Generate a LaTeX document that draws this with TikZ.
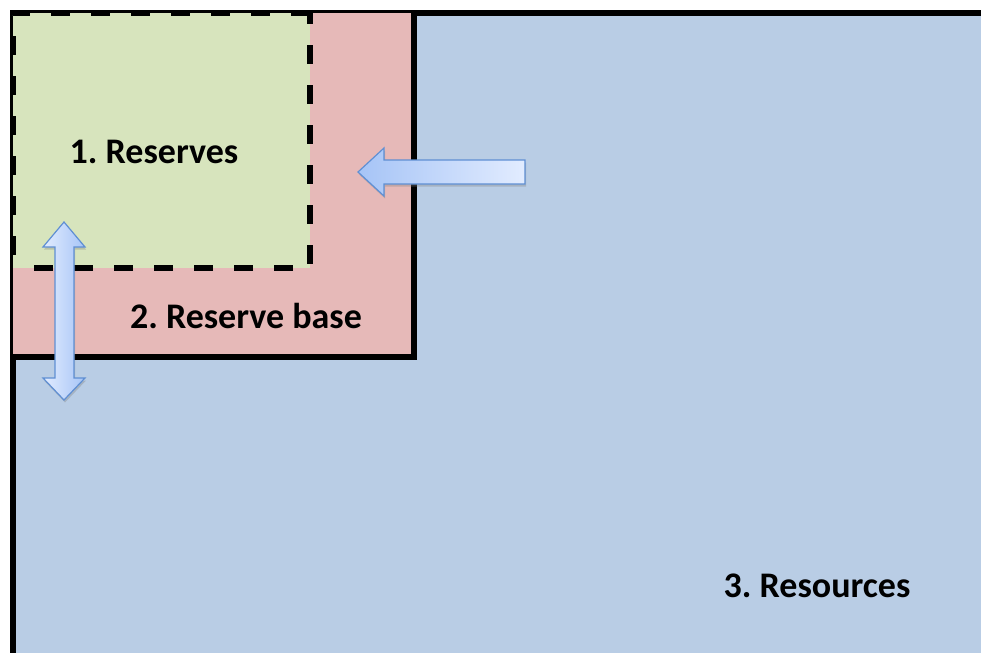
\documentclass[tikz,border=0pt]{standalone}
\usepackage{fontspec}
\setmainfont{Carlito}
\frenchspacing
\usetikzlibrary{shadows}
\definecolor{resgreen}{HTML}{D7E4BD}
\definecolor{basered}{HTML}{E6B9B8}
\definecolor{resblue}{HTML}{B9CDE5}
\definecolor{arrline}{HTML}{5F8FD3}
\definecolor{arrdark}{HTML}{A6C4F6}
\definecolor{arrlight}{HTML}{E2ECFF}
\tikzset{
  lbl/.style={font=\bfseries\fontsize{36}{40}\selectfont, text=black, anchor=base, inner sep=0pt},
  blockarrow/.style={draw=arrline, line width=1.2pt, line join=miter,
    drop shadow={opacity=0.35, shadow xshift=1pt, shadow yshift=-2.5pt}},
  border/.style={line width=5.5pt},
}
\begin{document}
\begin{tikzpicture}[x=1pt,y=-1pt]
\useasboundingbox (0,0) rectangle (981,653);
% resources area
\fill[resblue] (12,13) rectangle (981,653);
\draw[border] (10.25,13) -- (981,13);
\draw[border] (13,10.25) -- (13,653);
% reserve base
\fill[basered] (13,13) rectangle (414,357);
\draw[border, line cap=rect] (13,357) -- (414,357) -- (414,13);
% reserves (dashed)
\fill[resgreen] (13,13) rectangle (310,268);
\draw[border, dash pattern=on 19pt off 21pt, dash phase=-13pt, white!90!black] (13,268) -- (13,13) -- (310,13);
\draw[border, dash pattern=on 19pt off 21pt, dash phase=-13pt] (13,268) -- (13,13) -- (310,13);
\draw[border, dash pattern=on 19pt off 21pt, dash phase=8pt] (310,13) -- (310,268) -- (33,268);
% labels
\node[lbl] (reserves) at (154,163) {1. Reserves};
\node[lbl] (base) at (246,328) {2. Reserve base};
\node[lbl] (resources) at (817,597) {3. Resources};
% horizontal arrow
\coordinate (htip) at (358,172);
\draw[blockarrow, left color=arrdark, right color=arrlight]
  (htip) -- (384,148) -- (384,160) -- (525,160) -- (525,184) -- (384,184) -- (384,196) -- cycle;
% vertical double arrow
\coordinate (vtop) at (64,222);
\coordinate (vbot) at (64,400);
\draw[blockarrow, left color=arrlight, right color=arrdark]
  (vtop) -- (85,247) -- (74,247) -- (74,378) -- (85,378) -- (vbot) -- (43,378) -- (55,378) -- (55,247) -- (43,247) -- cycle;
\end{tikzpicture}
\end{document}
